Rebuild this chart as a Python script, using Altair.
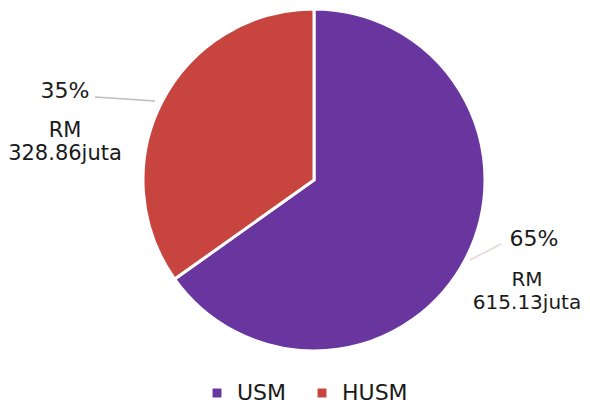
import altair as alt
import pandas as pd

categories = ["USM", "HUSM"]
values = [615.13, 328.86]
pct_labels = ["65%", "35%"]
amount_labels = ["615.13juta", "328.86juta"]
colors = ["#6936a0", "#c8453f"]

df = pd.DataFrame({
    "cat": categories,
    "value": values,
    "pct": pct_labels,
    "amount": amount_labels,
    "idx": list(range(len(categories))),
})

FONT = "DejaVu Sans"
CX, CY, R = 306, 172, 171

base = alt.Chart(df)

pie = base.mark_arc(radius=R, stroke="white", strokeWidth=3).encode(
    theta=alt.Theta("value:Q", stack=True),
    order=alt.Order("idx:Q"),
    color=alt.Color(
        "cat:N",
        scale=alt.Scale(domain=categories, range=colors),
        sort=categories,
        legend=alt.Legend(
            title=None,
            orient="none",
            legendX=198,
            legendY=374,
            direction="horizontal",
            symbolType="square",
            symbolSize=80,
            symbolStrokeWidth=0,
            labelFont=FONT,
            labelFontSize=22,
            labelColor="#1a1a1a",
            labelOffset=9,
            columnPadding=24,
            labelLimit=200,
        ),
    ),
    x=alt.value(CX),
    y=alt.value(CY),
)

line_husm = base.transform_filter(alt.datum.cat == "HUSM").mark_rule(
    color="#bdbdbd", strokeWidth=1.5
).encode(x=alt.value(87), y=alt.value(89), x2=alt.value(147), y2=alt.value(93))

line_usm = base.transform_filter(alt.datum.cat == "USM").mark_rule(
    color="#e6d6d6", strokeWidth=1.5
).encode(x=alt.value(462), y=alt.value(252), x2=alt.value(493), y2=alt.value(236))

def pct_text(cat, x, y):
    return base.transform_filter(alt.datum.cat == cat).mark_text(
        font=FONT, fontSize=22, color="#1a1a1a", baseline="middle", align="center"
    ).encode(text="pct:N", x=alt.value(x), y=alt.value(y))

def amt_text(cat, x, y, size):
    return base.transform_filter(alt.datum.cat == cat).transform_calculate(
        lbl="'RM\\n' + datum.amount"
    ).mark_text(
        font=FONT, fontSize=size, color="#1a1a1a", baseline="middle",
        align="center", lineBreak="\n", lineHeight=23
    ).encode(text="lbl:N", x=alt.value(x), y=alt.value(y))

chart = alt.layer(
    pie,
    line_husm,
    line_usm,
    pct_text("HUSM", 57, 83),
    amt_text("HUSM", 57, 123, 21),
    pct_text("USM", 526, 231),
    amt_text("USM", 519, 272, 20),
).properties(
    width=574,
    height=380,
    autosize=alt.AutoSizeParams(type="none"),
    padding={"left": 0, "top": 0, "right": 0, "bottom": 18},
    background="white",
).configure_view(strokeWidth=0, stroke="transparent")

chart.save("out.html", embed_options={"renderer": "svg", "actions": False})
